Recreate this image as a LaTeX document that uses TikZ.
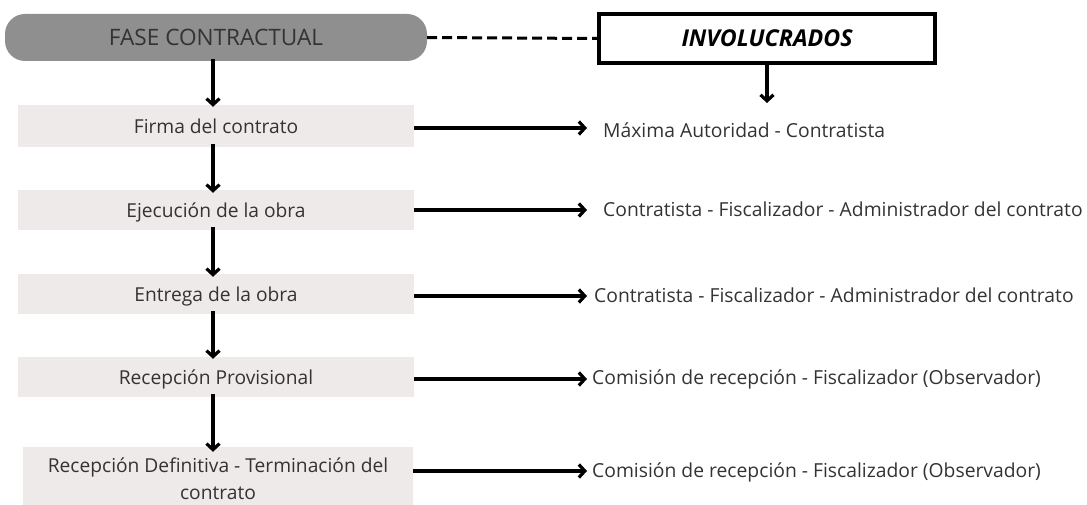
\documentclass[tikz,border=0pt]{standalone}
\usepackage{fontspec}
\setmainfont{Open Sans}
\usetikzlibrary{arrows.meta}
\definecolor{fasefill}{HTML}{8F8F8F}
\definecolor{boxfill}{HTML}{EEEAE9}
\definecolor{txt}{HTML}{333333}
\begin{document}
\begin{tikzpicture}[x=1pt,y=-1pt,
  fase/.style={fill=fasefill,rounded corners=20pt,minimum width=422pt,minimum height=47pt,inner sep=0pt,text=txt,font=\fontsize{22.6}{26}\selectfont},
  inv/.style={draw=black,line width=4pt,minimum width=336pt,minimum height=49pt,inner sep=0pt,font=\fontsize{23.2}{27}\selectfont\bfseries\itshape},
  stepbox/.style={fill=boxfill,minimum width=396pt,minimum height=40pt,inner sep=0pt,text=txt,font=\fontsize{19.2}{27}\selectfont,align=center},
  who/.style={anchor=west,inner sep=0pt,text=txt,font=\fontsize{19.3}{23}\selectfont},
  arr/.style={line width=3.2pt,-{Straight Barb[length=6pt,width=13pt,line width=3.2pt]}},
  dsh/.style={line width=3pt,dash pattern=on 10pt off 5pt}
]
\useasboundingbox (0,0) rectangle (1087,505);
\node[fase] (fase) at (216,37.5) {FASE CONTRACTUAL};
\node[inv] (inv) at (767,38.5) {INVOLUCRADOS};
\draw[dsh] (fase.east) -- (inv.west);

\node[stepbox,minimum height=42pt,text depth=0pt] (b1) at (216,126) {Firma del contrato};
\node[stepbox,text depth=0pt] (b2) at (216,210) {Ejecución de la obra};
\node[stepbox,text depth=0pt] (b3) at (216,294) {Entrega de la obra};
\node[stepbox,text depth=0pt] (b4) at (216,377) {Recepción Provisional};
\node[stepbox,minimum width=390pt,minimum height=58pt] (b5) at (218,476) {};
\node[text=txt,font=\fontsize{19.2}{27}\selectfont,align=center,inner sep=0pt] (b5t) at (218,479) {Recepción Definitiva - Terminación del\\contrato};

\coordinate (i0) at (767,103);
\draw[arr] (inv.south) -- (i0);

\draw[arr] ([xshift=-3pt,yshift=2pt]fase.south) -- ([xshift=-3pt,yshift=-2pt]b1.north);
\draw[arr] ([xshift=-3pt,yshift=3pt]b1.south) -- ([xshift=-3pt,yshift=-3pt]b2.north);
\draw[arr] ([xshift=-3pt,yshift=3pt]b2.south) -- ([xshift=-3pt,yshift=-3pt]b3.north);
\draw[arr] ([xshift=-3pt,yshift=3pt]b3.south) -- ([xshift=-3pt,yshift=-2pt]b4.north);
\draw[arr] ([xshift=-3pt,yshift=3pt]b4.south) -- ([xshift=-5pt,yshift=-5pt]b5.north);

\coordinate (e1) at (587,128);
\coordinate (e2) at (587,210);
\coordinate (e3) at (587,296);
\coordinate (e4) at (587,379);
\coordinate (e5) at (587,471);

\node[who] (r1) at (603,130) {Máxima Autoridad - Contratista};
\node[who] (r2) at (603,209) {Contratista - Fiscalizador - Administrador del contrato};
\node[who] (r3) at (594,295) {Contratista - Fiscalizador - Administrador del contrato};
\node[who] (r4) at (592,379) {Comisión de recepción - Fiscalizador (Observador)};
\node[who] (r5) at (592,472) {Comisión de recepción - Fiscalizador (Observador)};

\draw[arr] (b1.east |- e1) -- (e1);
\draw[arr] (b2.east |- e2) -- (e2);
\draw[arr] (b3.east |- e3) -- (e3);
\draw[arr] (b4.east |- e4) -- (e4);
\draw[arr] (b5.east |- e5) -- (e5);
\end{tikzpicture}
\end{document}
